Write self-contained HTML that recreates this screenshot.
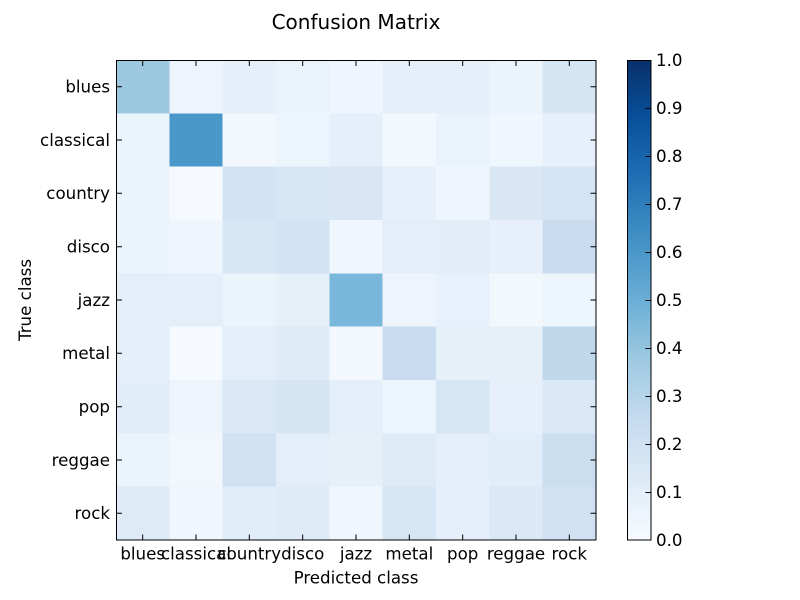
<!DOCTYPE html>
<html><head><meta charset="utf-8"><style>
html,body{margin:0;padding:0;background:#fff;}
svg{display:block;}
text{font-family:"DejaVu Sans","Liberation Sans",sans-serif;fill:#000;}
</style></head><body>
<svg width="800" height="600" viewBox="0 0 800 600" xmlns="http://www.w3.org/2000/svg">
<defs>
<linearGradient id="blues" x1="0" y1="1" x2="0" y2="0">
<stop offset="0" stop-color="#f7fbff"/>
<stop offset="0.125" stop-color="#deebf7"/>
<stop offset="0.25" stop-color="#c6dbef"/>
<stop offset="0.375" stop-color="#9ecae1"/>
<stop offset="0.5" stop-color="#6baed6"/>
<stop offset="0.625" stop-color="#4292c6"/>
<stop offset="0.75" stop-color="#2171b5"/>
<stop offset="0.875" stop-color="#08519c"/>
<stop offset="1" stop-color="#08306b"/>
</linearGradient>
</defs>
<rect width="800" height="600" fill="#fff"/>
<text x="356" y="29" font-size="20" text-anchor="middle">Confusion Matrix</text>
<g shape-rendering="crispEdges">
<!-- row 0 blues -->
<rect x="116" y="60" width="54" height="54" fill="#9dc9e0"/>
<rect x="169.33" y="60" width="54" height="54" fill="#edf4fc"/>
<rect x="222.67" y="60" width="54" height="54" fill="#e5eff9"/>
<rect x="276" y="60" width="54" height="54" fill="#eaf3fb"/>
<rect x="329.33" y="60" width="54" height="54" fill="#eef5fd"/>
<rect x="382.67" y="60" width="54" height="54" fill="#e5eff9"/>
<rect x="436" y="60" width="54" height="54" fill="#e5eff9"/>
<rect x="489.33" y="60" width="54" height="54" fill="#ebf3fb"/>
<rect x="542.67" y="60" width="53.33" height="54" fill="#d5e5f3"/>
<!-- row 1 classical -->
<rect x="116" y="113.33" width="54" height="54" fill="#ebf3fb"/>
<rect x="169.33" y="113.33" width="54" height="54" fill="#4a98c9"/>
<rect x="222.67" y="113.33" width="54" height="54" fill="#f2f7fd"/>
<rect x="276" y="113.33" width="54" height="54" fill="#ecf4fc"/>
<rect x="329.33" y="113.33" width="54" height="54" fill="#e4eff9"/>
<rect x="382.67" y="113.33" width="54" height="54" fill="#f2f8fd"/>
<rect x="436" y="113.33" width="54" height="54" fill="#eaf3fb"/>
<rect x="489.33" y="113.33" width="54" height="54" fill="#f0f6fe"/>
<rect x="542.67" y="113.33" width="53.33" height="54" fill="#e7f0fa"/>
<!-- row 2 country -->
<rect x="116" y="166.67" width="54" height="54" fill="#ebf3fb"/>
<rect x="169.33" y="166.67" width="54" height="54" fill="#f6faff"/>
<rect x="222.67" y="166.67" width="54" height="54" fill="#d2e3f3"/>
<rect x="276" y="166.67" width="54" height="54" fill="#d8e7f5"/>
<rect x="329.33" y="166.67" width="54" height="54" fill="#d9e7f5"/>
<rect x="382.67" y="166.67" width="54" height="54" fill="#e7f0fa"/>
<rect x="436" y="166.67" width="54" height="54" fill="#eef5fd"/>
<rect x="489.33" y="166.67" width="54" height="54" fill="#d9e7f5"/>
<rect x="542.67" y="166.67" width="53.33" height="54" fill="#d4e4f4"/>
<!-- row 3 disco -->
<rect x="116" y="220" width="54" height="54" fill="#ebf3fb"/>
<rect x="169.33" y="220" width="54" height="54" fill="#eef5fd"/>
<rect x="222.67" y="220" width="54" height="54" fill="#d8e7f5"/>
<rect x="276" y="220" width="54" height="54" fill="#d2e3f3"/>
<rect x="329.33" y="220" width="54" height="54" fill="#f0f6fe"/>
<rect x="382.67" y="220" width="54" height="54" fill="#e3eef9"/>
<rect x="436" y="220" width="54" height="54" fill="#e2edf8"/>
<rect x="489.33" y="220" width="54" height="54" fill="#e7f0fa"/>
<rect x="542.67" y="220" width="53.33" height="54" fill="#c9dcf0"/>
<!-- row 4 jazz -->
<rect x="116" y="273.33" width="54" height="54" fill="#e3eef8"/>
<rect x="169.33" y="273.33" width="54" height="54" fill="#e3eef8"/>
<rect x="222.67" y="273.33" width="54" height="54" fill="#ebf3fb"/>
<rect x="276" y="273.33" width="54" height="54" fill="#e6f0f9"/>
<rect x="329.33" y="273.33" width="54" height="54" fill="#7bb7da"/>
<rect x="382.67" y="273.33" width="54" height="54" fill="#edf4fc"/>
<rect x="436" y="273.33" width="54" height="54" fill="#e8f1fb"/>
<rect x="489.33" y="273.33" width="54" height="54" fill="#f3f8fd"/>
<rect x="542.67" y="273.33" width="53.33" height="54" fill="#edf5fd"/>
<!-- row 5 metal -->
<rect x="116" y="326.67" width="54" height="54" fill="#e3eef8"/>
<rect x="169.33" y="326.67" width="54" height="54" fill="#f6faff"/>
<rect x="222.67" y="326.67" width="54" height="54" fill="#e3eef8"/>
<rect x="276" y="326.67" width="54" height="54" fill="#dfebf7"/>
<rect x="329.33" y="326.67" width="54" height="54" fill="#f2f8fd"/>
<rect x="382.67" y="326.67" width="54" height="54" fill="#c9dcf0"/>
<rect x="436" y="326.67" width="54" height="54" fill="#e6f0f9"/>
<rect x="489.33" y="326.67" width="54" height="54" fill="#e6f0f9"/>
<rect x="542.67" y="326.67" width="53.33" height="54" fill="#c0d8ec"/>
<!-- row 6 pop -->
<rect x="116" y="380" width="54" height="54" fill="#e1edf8"/>
<rect x="169.33" y="380" width="54" height="54" fill="#edf4fc"/>
<rect x="222.67" y="380" width="54" height="54" fill="#dbe9f6"/>
<rect x="276" y="380" width="54" height="54" fill="#d5e5f4"/>
<rect x="329.33" y="380" width="54" height="54" fill="#e4eef9"/>
<rect x="382.67" y="380" width="54" height="54" fill="#edf5fc"/>
<rect x="436" y="380" width="54" height="54" fill="#d6e6f4"/>
<rect x="489.33" y="380" width="54" height="54" fill="#e7f0fa"/>
<rect x="542.67" y="380" width="53.33" height="54" fill="#dbe8f6"/>
<!-- row 7 reggae -->
<rect x="116" y="433.33" width="54" height="54" fill="#ebf3fb"/>
<rect x="169.33" y="433.33" width="54" height="54" fill="#f2f7fd"/>
<rect x="222.67" y="433.33" width="54" height="54" fill="#d0e1f2"/>
<rect x="276" y="433.33" width="54" height="54" fill="#e3eef8"/>
<rect x="329.33" y="433.33" width="54" height="54" fill="#e6f0f9"/>
<rect x="382.67" y="433.33" width="54" height="54" fill="#deebf7"/>
<rect x="436" y="433.33" width="54" height="54" fill="#e4eff9"/>
<rect x="489.33" y="433.33" width="54" height="54" fill="#e1edf8"/>
<rect x="542.67" y="433.33" width="53.33" height="54" fill="#cbdef0"/>
<!-- row 8 rock -->
<rect x="116" y="486.67" width="54" height="53.33" fill="#deebf7"/>
<rect x="169.33" y="486.67" width="54" height="53.33" fill="#f0f6fe"/>
<rect x="222.67" y="486.67" width="54" height="53.33" fill="#e1edf8"/>
<rect x="276" y="486.67" width="54" height="53.33" fill="#dfebf7"/>
<rect x="329.33" y="486.67" width="54" height="53.33" fill="#f0f6fe"/>
<rect x="382.67" y="486.67" width="54" height="53.33" fill="#d6e6f4"/>
<rect x="436" y="486.67" width="54" height="53.33" fill="#e4eff9"/>
<rect x="489.33" y="486.67" width="54" height="53.33" fill="#dbe9f6"/>
<rect x="542.67" y="486.67" width="53.33" height="53.33" fill="#cfe1f2"/>
</g>
<rect x="116.5" y="60.5" width="479.5" height="479.5" fill="none" stroke="#000" stroke-width="1"/>
<g stroke="#000" stroke-width="1">
<!-- y ticks left/right -->
<path d="M116.5 86.7h5.5M116.5 140h5.5M116.5 193.3h5.5M116.5 246.7h5.5M116.5 300h5.5M116.5 353.3h5.5M116.5 406.7h5.5M116.5 460h5.5M116.5 513.3h5.5"/>
<path d="M596 86.7h-5.5M596 140h-5.5M596 193.3h-5.5M596 246.7h-5.5M596 300h-5.5M596 353.3h-5.5M596 406.7h-5.5M596 460h-5.5M596 513.3h-5.5"/>
<!-- x ticks top/bottom -->
<path d="M142.7 60.5v5.5M196 60.5v5.5M249.3 60.5v5.5M302.7 60.5v5.5M356 60.5v5.5M409.3 60.5v5.5M462.7 60.5v5.5M516 60.5v5.5M569.3 60.5v5.5"/>
<path d="M142.7 540v-5.5M196 540v-5.5M249.3 540v-5.5M302.7 540v-5.5M356 540v-5.5M409.3 540v-5.5M462.7 540v-5.5M516 540v-5.5M569.3 540v-5.5"/>
</g>
<g font-size="16.67" text-anchor="end">
<text x="110" y="92.5">blues</text>
<text x="110" y="145.8">classical</text>
<text x="110" y="199.1">country</text>
<text x="110" y="252.5">disco</text>
<text x="110" y="305.8">jazz</text>
<text x="110" y="359.1">metal</text>
<text x="110" y="412.5">pop</text>
<text x="110" y="465.8">reggae</text>
<text x="110" y="519.1">rock</text>
</g>
<g font-size="16.67" text-anchor="middle">
<text x="142.7" y="559.5">blues</text>
<text x="196" y="559.5">classical</text>
<text x="249.3" y="559.5">country</text>
<text x="302.7" y="559.5">disco</text>
<text x="356" y="559.5">jazz</text>
<text x="409.3" y="559.5">metal</text>
<text x="462.7" y="559.5">pop</text>
<text x="516" y="559.5">reggae</text>
<text x="569.3" y="559.5">rock</text>
<text x="356" y="583.5">Predicted class</text>
<text transform="translate(31,300) rotate(-90)">True class</text>
</g>
<!-- colorbar -->
<rect x="627.5" y="60.5" width="23.5" height="479.5" fill="url(#blues)" stroke="#000" stroke-width="1"/>
<g stroke="#000" stroke-width="1">
<path d="M651 108.5h-5.5M651 156.5h-5.5M651 204.5h-5.5M651 252.5h-5.5M651 300.5h-5.5M651 348.5h-5.5M651 396.5h-5.5M651 444.5h-5.5M651 492.5h-5.5"/>
</g>
<g font-size="16.67">
<text x="656" y="66">1.0</text>
<text x="656" y="114">0.9</text>
<text x="656" y="162">0.8</text>
<text x="656" y="210">0.7</text>
<text x="656" y="258">0.6</text>
<text x="656" y="306">0.5</text>
<text x="656" y="354">0.4</text>
<text x="656" y="402">0.3</text>
<text x="656" y="450">0.2</text>
<text x="656" y="498">0.1</text>
<text x="656" y="546">0.0</text>
</g>
</svg>
</body></html>
